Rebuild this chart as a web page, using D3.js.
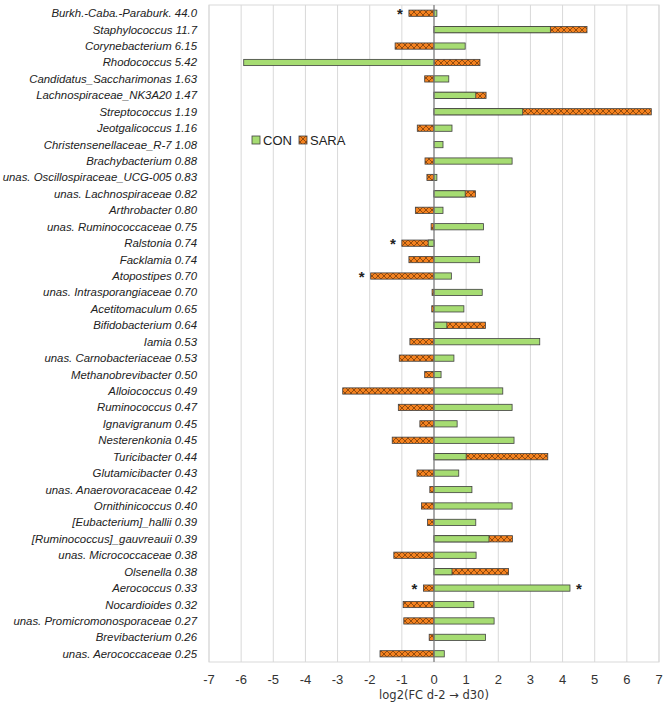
<!DOCTYPE html>
<html>
<head>
<meta charset="utf-8">
<script src="https://cdn.jsdelivr.net/npm/d3@7"></script>
<style>
  body { margin: 0; background: #fff; }
  svg { display: block; }
</style>
</head>
<body>
<div id="chart"></div>
<script>
// category labels (top to bottom)
const categories = [
  "Burkh.-Caba.-Paraburk. 44.0", "Staphylococcus 11.7", "Corynebacterium 6.15", "Rhodococcus 5.42",
  "Candidatus_Saccharimonas 1.63", "Lachnospiraceae_NK3A20 1.47", "Streptococcus 1.19", "Jeotgalicoccus 1.16",
  "Christensenellaceae_R-7 1.08", "Brachybacterium 0.88", "unas. Oscillospiraceae_UCG-005 0.83",
  "unas. Lachnospiraceae 0.82", "Arthrobacter 0.80", "unas. Ruminococcaceae 0.75", "Ralstonia 0.74",
  "Facklamia 0.74", "Atopostipes 0.70", "unas. Intrasporangiaceae 0.70", "Acetitomaculum 0.65",
  "Bifidobacterium 0.64", "Iamia 0.53", "unas. Carnobacteriaceae 0.53", "Methanobrevibacter 0.50",
  "Alloiococcus 0.49", "Ruminococcus 0.47", "Ignavigranum 0.45", "Nesterenkonia 0.45", "Turicibacter 0.44",
  "Glutamicibacter 0.43", "unas. Anaerovoracaceae 0.42", "Ornithinicoccus 0.40", "[Eubacterium]_hallii 0.39",
  "[Ruminococcus]_gauvreauii 0.39", "unas. Micrococcaceae 0.38", "Olsenella 0.38", "Aerococcus 0.33",
  "Nocardioides 0.32", "unas. Promicromonosporaceae 0.27", "Brevibacterium 0.26", "unas. Aerococcaceae 0.25"
];

const conValues = [
  0.09, 3.62, 0.97, -5.92, 0.46, 1.30, 2.76, 0.56, 0.28, 2.43, 0.09, 0.97, 0.28, 1.54, -0.18,
  1.42, 0.54, 1.50, 0.93, 0.40, 3.29, 0.62, 0.22, 2.14, 2.43, 0.72, 2.49, 1.00, 0.77, 1.18,
  2.43, 1.30, 1.71, 1.31, 0.56, 4.23, 1.24, 1.87, 1.60, 0.32
];

const saraValues = [
  -0.78, 4.76, -1.21, 1.43, -0.29, 1.62, 6.76, -0.52, 0.0, -0.28, -0.22, 1.29, -0.58, -0.09, -1.00,
  -0.78, -1.97, -0.06, -0.07, 1.60, -0.75, -1.08, -0.29, -2.84, -1.11, -0.44, -1.30, 3.54, -0.53, -0.13,
  -0.39, -0.20, 2.44, -1.25, 2.32, -0.33, -0.96, -0.94, -0.15, -1.68
];

// significance markers (*)
const conSig = categories.map(c => c.startsWith("Aerococcus "));
const saraSig = categories.map(c =>
  ["Burkh.", "Ralstonia", "Atopostipes", "Aerococcus "].some(s => c.startsWith(s)));

const xTicks = [-7, -6, -5, -4, -3, -2, -1, 0, 1, 2, 3, 4, 5, 6, 7];
const seriesNames = ["CON", "SARA"];

const width = 669, height = 704;
const margin = { top: 5, right: 10, bottom: 42, left: 209 };
const font = "Liberation Sans, Arial, sans-serif";

const svg = d3.select("#chart").append("svg")
  .attr("width", width)
  .attr("height", height);

// crosshatch for SARA
const defs = svg.append("defs");
const pat = defs.append("pattern")
  .attr("id", "hatch")
  .attr("patternUnits", "userSpaceOnUse")
  .attr("width", 6)
  .attr("height", 6);
pat.append("rect").attr("width", 6).attr("height", 6).attr("fill", "#f5821f");
pat.append("path")
  .attr("d", "M0,0 L6,6 M6,0 L0,6 M-1,5 L1,7 M5,-1 L7,1 M-1,1 L1,-1 M5,7 L7,5")
  .attr("stroke", "#7a3d0a")
  .attr("stroke-width", 0.8);

const x = d3.scaleLinear()
  .domain([-7, 7])
  .range([margin.left, width - margin.right]);

const y = d3.scaleBand()
  .domain(categories)
  .range([margin.top, height - margin.bottom])
  .paddingInner(0.62)
  .paddingOuter(0.31);

// grid lines
svg.append("g")
  .selectAll("line")
  .data(xTicks)
  .join("line")
  .attr("x1", d => x(d)).attr("x2", d => x(d))
  .attr("y1", margin.top).attr("y2", height - margin.bottom)
  .attr("stroke", "#d9d9d9")
  .attr("stroke-width", 1);

// plot border
svg.append("rect")
  .attr("x", x(-7)).attr("y", margin.top)
  .attr("width", x(7) - x(-7))
  .attr("height", height - margin.bottom - margin.top)
  .attr("fill", "none")
  .attr("stroke", "#d9d9d9");

// SARA bars behind, CON bars in front
svg.append("g")
  .selectAll("rect")
  .data(saraValues)
  .join("rect")
  .attr("x", d => x(Math.min(0, d)))
  .attr("width", d => Math.abs(x(d) - x(0)))
  .attr("y", (d, i) => y(categories[i]))
  .attr("height", y.bandwidth())
  .attr("fill", "url(#hatch)")
  .attr("stroke", "#404040")
  .attr("stroke-width", 0.8);

svg.append("g")
  .selectAll("rect")
  .data(conValues)
  .join("rect")
  .attr("x", d => x(Math.min(0, d)))
  .attr("width", d => Math.abs(x(d) - x(0)))
  .attr("y", (d, i) => y(categories[i]))
  .attr("height", y.bandwidth())
  .attr("fill", "#a6dc72")
  .attr("stroke", "#404040")
  .attr("stroke-width", 0.8);

// zero line
svg.append("line")
  .attr("x1", x(0)).attr("x2", x(0))
  .attr("y1", margin.top).attr("y2", height - margin.bottom)
  .attr("stroke", "#7f7f7f")
  .attr("stroke-width", 1.2);

// asterisks
function addStars(values, flags) {
  svg.append("g")
    .selectAll("text")
    .data(values.map((v, i) => ({ v, i })).filter(d => flags[d.i]))
    .join("text")
    .attr("x", d => x(d.v) + (d.v < 0 ? -6 : 6))
    .attr("y", d => y(categories[d.i]) + y.bandwidth() / 2 + 6)
    .attr("text-anchor", d => d.v < 0 ? "end" : "start")
    .attr("font-family", font)
    .attr("font-weight", "bold")
    .attr("font-size", 15)
    .attr("fill", "#222")
    .text("*");
}
addStars(saraValues, saraSig);
addStars(conValues, conSig);

// category labels
svg.append("g")
  .selectAll("text")
  .data(categories)
  .join("text")
  .attr("x", 197)
  .attr("y", d => y(d) + y.bandwidth() / 2)
  .attr("dy", "0.35em")
  .attr("text-anchor", "end")
  .attr("font-family", font)
  .attr("font-style", "italic")
  .attr("font-size", 11.4)
  .attr("fill", "#222")
  .text(d => d);

// x tick labels
svg.append("g")
  .selectAll("text")
  .data(xTicks)
  .join("text")
  .attr("x", d => x(d))
  .attr("y", 684)
  .attr("text-anchor", "middle")
  .attr("font-family", font)
  .attr("font-size", 13)
  .attr("fill", "#333")
  .text(d => d);

svg.append("text")
  .attr("x", x(0))
  .attr("y", 699)
  .attr("text-anchor", "middle")
  .attr("font-family", "DejaVu Sans, Liberation Sans, sans-serif")
  .attr("font-size", 11.5)
  .attr("fill", "#333")
  .text("log2(FC d-2 \u2192 d30)");

// legend
const legend = svg.append("g").attr("transform", "translate(252,136)");
const legendFills = ["#a6dc72", "url(#hatch)"];
const legendX = [0, 47];
seriesNames.forEach((name, i) => {
  legend.append("rect")
    .attr("x", legendX[i]).attr("y", 0)
    .attr("width", 8).attr("height", 8)
    .attr("fill", legendFills[i])
    .attr("stroke", "#404040")
    .attr("stroke-width", 0.8);
  legend.append("text")
    .attr("x", legendX[i] + 11).attr("y", 8.5)
    .attr("font-family", font)
    .attr("font-size", 13)
    .attr("fill", "#222")
    .text(name);
});
</script>
</body>
</html>
